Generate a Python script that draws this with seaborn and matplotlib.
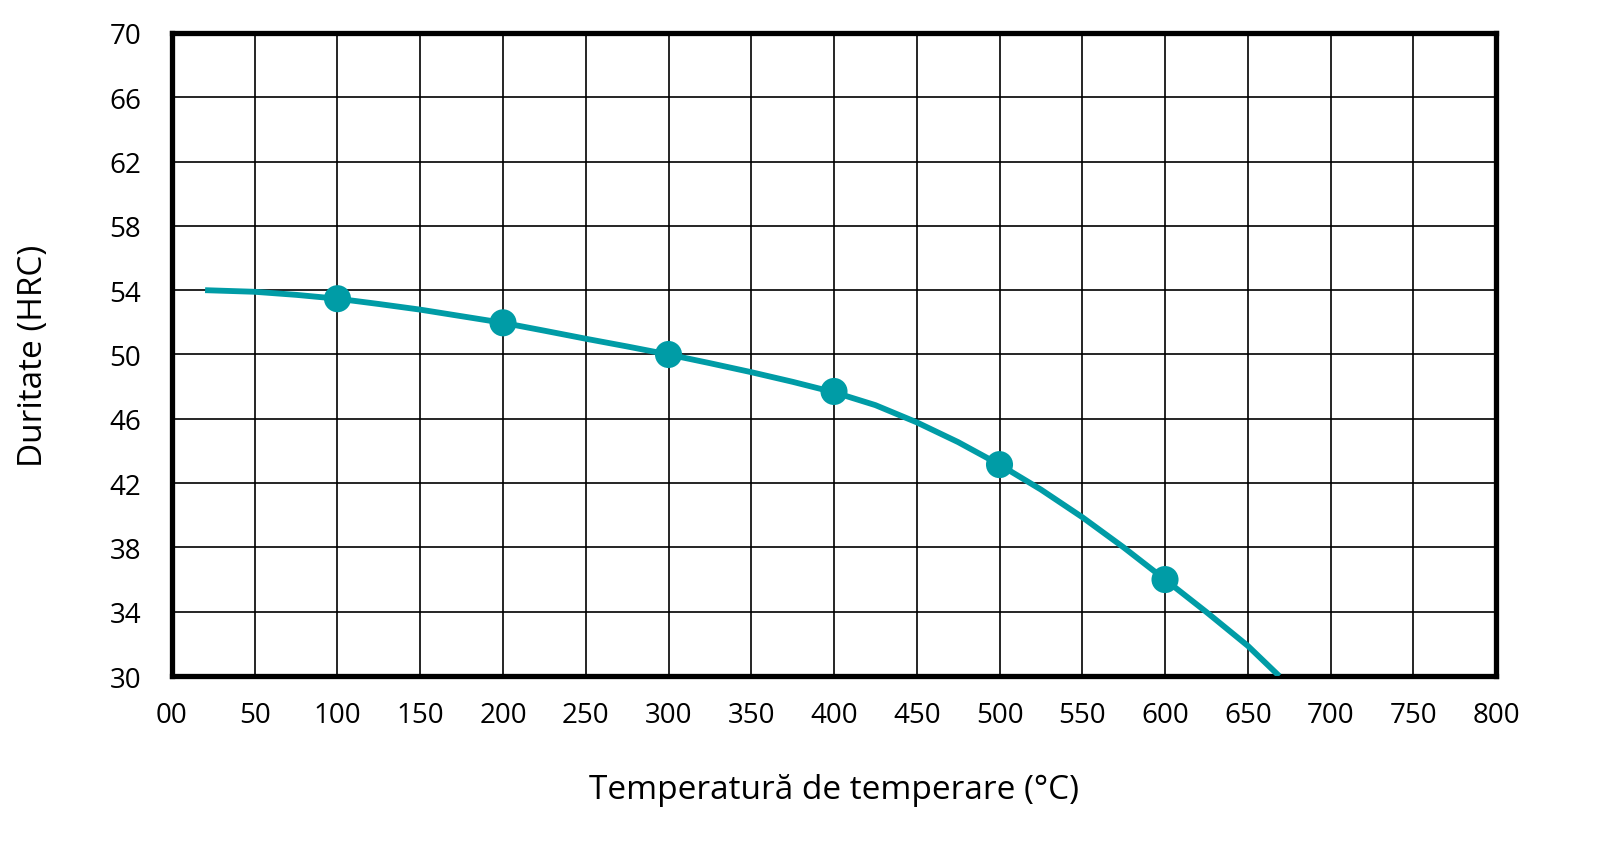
import matplotlib
matplotlib.use("Agg")
import matplotlib.pyplot as plt
import seaborn as sns
import pandas as pd

# Curve (tempering temperature vs hardness)
curve_temp = [20, 50, 75, 100, 125, 150, 175, 200, 225, 250, 275, 300, 325, 350, 375,
              400, 425, 450, 475, 500, 525, 550, 575, 600, 625, 650, 669]
curve_hrc = [54.0, 53.9, 53.71, 53.47, 53.14, 52.79, 52.38, 51.97, 51.48, 50.98, 50.5,
             50.0, 49.46, 48.9, 48.3, 47.65, 46.85, 45.78, 44.55, 43.15, 41.6, 39.88,
             38.0, 36.0, 33.98, 31.88, 30.0]

# Measured points (markers)
point_temp = [100, 200, 300, 400, 500, 600]
point_hrc = [53.47, 51.97, 50.0, 47.7, 43.15, 36.0]

x_ticks = list(range(0, 801, 50))
x_labels = ["00"] + [str(t) for t in x_ticks[1:]]
y_ticks = list(range(30, 71, 4))

teal = "#009ca6"

sns.set_theme(style="white")
plt.rcParams['font.family'] = ['Open Sans', 'DejaVu Sans']

fig = plt.figure(figsize=(16.21, 8.62), dpi=100)
ax = fig.add_axes([0.1061, 0.2146, 0.8168, 0.746])

df_curve = pd.DataFrame({'Temp': curve_temp, 'HRC': curve_hrc})
df_pts = pd.DataFrame({'Temp': point_temp, 'HRC': point_hrc})

sns.lineplot(data=df_curve, x='Temp', y='HRC', ax=ax, color=teal, linewidth=4.2,
             sort=True, zorder=3, solid_capstyle='butt', solid_joinstyle='round')
sns.scatterplot(data=df_pts, x='Temp', y='HRC', ax=ax, color=teal, s=380,
                edgecolor='none', zorder=4)

ax.set_xlim(0, 800)
ax.set_ylim(30, 70)
ax.set_xticks(x_ticks)
ax.set_xticklabels(x_labels)
ax.set_yticks(y_ticks)

ax.grid(True, color='black', linewidth=1.2)
ax.set_axisbelow(True)
for side in ['left', 'right', 'top', 'bottom']:
    ax.spines[side].set_visible(True)
    ax.spines[side].set_color('black')
    ax.spines[side].set_linewidth(3.8)

ax.tick_params(axis='x', length=0, pad=18, labelsize=20, colors='black')
ax.tick_params(axis='y', length=0, pad=22, labelsize=20, colors='black')

ax.set_xlabel("Temperatură de temperare (°C)", fontsize=24, color='black', labelpad=32)
ax.set_ylabel("Duritate (HRC)", fontsize=24, color='black', labelpad=43)

fig.savefig('out.png', dpi=100)
